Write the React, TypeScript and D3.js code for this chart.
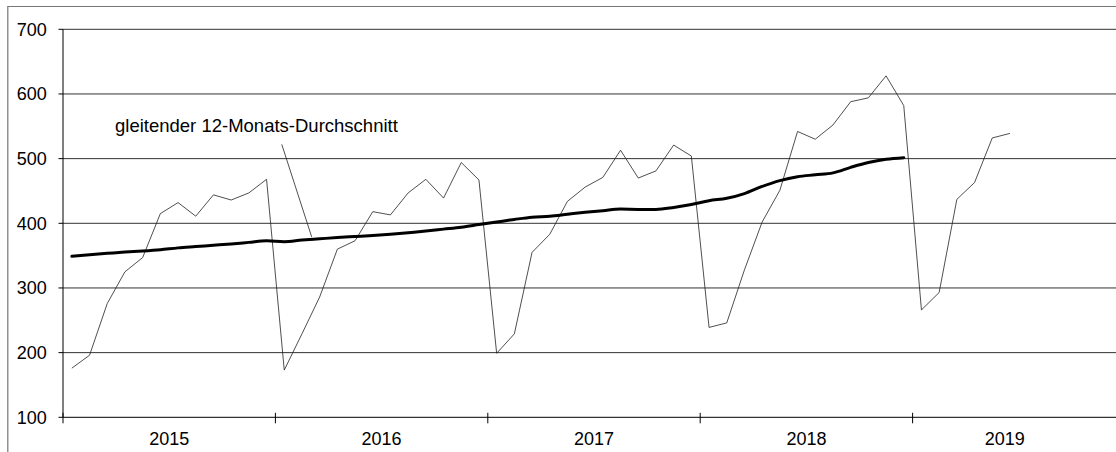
import React, { useRef, useEffect } from 'react';
import * as d3 from 'd3';

const years = ['2015', '2016', '2017', '2018', '2019'];
const yTicks = [100, 200, 300, 400, 500, 600, 700];

// monthly values, Jan 2015 - Jun 2019
const monthly = [
  176, 196, 276, 325, 347, 415, 432, 411, 444, 436, 447, 468,
  173, 229, 286, 360, 373, 418, 413, 447, 468, 439, 494, 467,
  199, 229, 355, 383, 434, 456, 471, 513, 470, 481, 521, 504,
  239, 246, 328, 402, 451, 542, 530, 552, 588, 594, 628, 582,
  266, 293, 437, 463, 532, 539,
];

// 12-month moving average, Jan 2015 - Dec 2018
const movingAvg = [
  349, 351.5, 353.5, 355.5, 357, 359, 362, 364, 366, 368, 370.5, 373,
  371.5, 374, 376, 378, 379.5, 381, 383, 385.5, 388, 391, 394, 398,
  402, 406, 409.5, 411, 414, 417, 419.5, 422, 421.5, 421.5, 424.5, 429,
  435, 438.7, 446, 457, 466, 472, 475, 478, 486.5, 494, 499, 501.5,
];

const annotation = 'gleitender 12-Monats-Durchschnitt';

const W = 1116;
const H = 452;
const FONT = '"Liberation Sans", Arial, sans-serif';

function App() {
  const svgRef = useRef<SVGSVGElement>(null);

  useEffect(() => {
    const svg = d3.select(svgRef.current);
    svg.selectAll('*').remove();

    // months on x, 60 slots for 5 years
    const x = d3.scaleLinear().domain([0, years.length * 12]).range([63, 1125]);
    const y = d3.scaleLinear().domain([100, 700]).range([417.3, 29.3]);
    const plotRight = 1097;

    // outer frame (left + top)
    svg.append('path')
      .attr('d', `M7.8,${H} V6.5 H${W}`)
      .attr('fill', 'none')
      .attr('stroke', '#777')
      .attr('stroke-width', 1.2);

    // gridlines
    svg.selectAll('.grid')
      .data(yTicks.filter(v => v > 100))
      .join('line')
      .attr('class', 'grid')
      .attr('x1', x(0)).attr('x2', W)
      .attr('y1', d => y(d)).attr('y2', d => y(d))
      .attr('stroke', '#333')
      .attr('stroke-width', 1);

    // y axis
    svg.append('line')
      .attr('x1', x(0)).attr('x2', x(0))
      .attr('y1', y(700)).attr('y2', y(100))
      .attr('stroke', '#000');
    svg.selectAll('.ytick')
      .data(yTicks)
      .join('line')
      .attr('class', 'ytick')
      .attr('x1', x(0) - 4.5).attr('x2', x(0))
      .attr('y1', d => y(d)).attr('y2', d => y(d))
      .attr('stroke', '#000');
    svg.selectAll('.ylabel')
      .data(yTicks)
      .join('text')
      .attr('class', 'ylabel')
      .attr('x', 46.7)
      .attr('y', d => y(d))
      .attr('dy', '0.35em')
      .attr('text-anchor', 'end')
      .attr('font-family', FONT)
      .attr('font-size', 18)
      .attr('fill', '#000')
      .text(d => d);

    // x axis
    svg.append('line')
      .attr('x1', x(0)).attr('x2', W)
      .attr('y1', y(100)).attr('y2', y(100))
      .attr('stroke', '#000');
    svg.selectAll('.xtick')
      .data(years.map((_, i) => i * 12))
      .join('line')
      .attr('class', 'xtick')
      .attr('x1', d => x(d)).attr('x2', d => x(d))
      .attr('y1', y(100) - 4.5).attr('y2', y(100) + 6)
      .attr('stroke', '#000');
    svg.selectAll('.xlabel')
      .data(years)
      .join('text')
      .attr('class', 'xlabel')
      .attr('x', (d, i) => (x(i * 12) + Math.min(x(i * 12 + 12), plotRight)) / 2)
      .attr('y', 445)
      .attr('text-anchor', 'middle')
      .attr('font-family', FONT)
      .attr('font-size', 18)
      .attr('fill', '#000')
      .text(d => d);

    // monthly series
    const rawLine = d3.line<number>()
      .x((v, i) => x(i + 0.5))
      .y(v => y(v));
    svg.append('path')
      .datum(monthly)
      .attr('d', rawLine)
      .attr('fill', 'none')
      .attr('stroke', '#222')
      .attr('stroke-width', 0.8);

    // moving average
    const maLine = d3.line<number>()
      .x((v, i) => x(i + 0.5))
      .y(v => y(v))
      .curve(d3.curveMonotoneX);
    svg.append('path')
      .datum(movingAvg)
      .attr('d', maLine)
      .attr('fill', 'none')
      .attr('stroke', '#000')
      .attr('stroke-width', 3)
      .attr('stroke-linecap', 'round');

    // annotation + leader line
    svg.append('line')
      .attr('x1', x(12.36)).attr('y1', y(522))
      .attr('x2', x(14.05)).attr('y2', y(379))
      .attr('stroke', '#222')
      .attr('stroke-width', 0.8);
    svg.append('text')
      .attr('x', x(2.94))
      .attr('y', y(540.7))
      .attr('font-family', FONT)
      .attr('font-size', 18.5)
      .attr('fill', '#000')
      .text(annotation);
  }, []);

  return (
    <svg
      ref={svgRef}
      width={W}
      height={H}
      style={{ position: 'absolute', left: 0, top: 0, background: '#fff' }}
    />
  );
}

export default App;
